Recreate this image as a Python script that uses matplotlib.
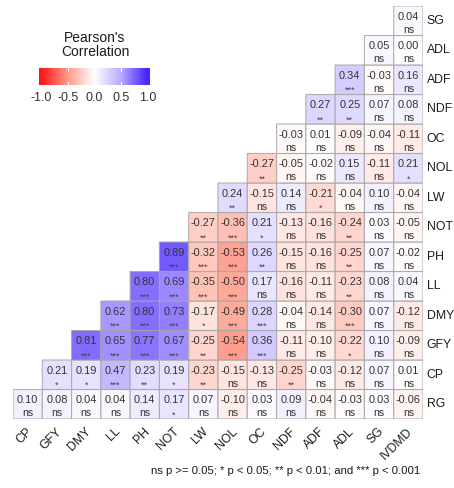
import numpy as np
import matplotlib
matplotlib.use("Agg")
import matplotlib.pyplot as plt
from matplotlib.colors import LinearSegmentedColormap

plt.rcParams["font.family"] = ["Liberation Sans", "DejaVu Sans"]

# columns (left to right) and rows (bottom to top)
cols = ["CP", "GFY", "DMY", "LL", "PH", "NOT", "LW", "NOL", "OC", "NDF", "ADF", "ADL", "SG", "IVDMD"]
rows = ["RG", "CP", "GFY", "DMY", "LL", "PH", "NOT", "LW", "NOL", "OC", "NDF", "ADF", "ADL", "SG"]

# each row lists values from its first column through IVDMD
r_RG = [0.10, 0.08, 0.04, 0.04, 0.14, 0.17, 0.07, -0.10, 0.03, 0.09, -0.04, -0.03, 0.03, -0.06]
s_RG = ["ns", "ns", "ns", "ns", "ns", "*", "ns", "ns", "ns", "ns", "ns", "ns", "ns", "ns"]
r_CP = [0.21, 0.19, 0.47, 0.23, 0.19, -0.23, -0.15, -0.13, -0.25, -0.03, -0.12, 0.07, 0.01]
s_CP = ["*", "*", "***", "**", "*", "**", "ns", "ns", "**", "ns", "ns", "ns", "ns"]
r_GFY = [0.81, 0.65, 0.77, 0.67, -0.25, -0.54, 0.36, -0.11, -0.10, -0.22, 0.10, -0.09]
s_GFY = ["***", "***", "***", "***", "**", "***", "***", "ns", "ns", "*", "ns", "ns"]
r_DMY = [0.62, 0.80, 0.73, -0.17, -0.49, 0.28, -0.04, -0.14, -0.30, 0.07, -0.12]
s_DMY = ["***", "***", "***", "*", "***", "***", "ns", "ns", "***", "ns", "ns"]
r_LL = [0.80, 0.69, -0.35, -0.50, 0.17, -0.16, -0.11, -0.23, 0.08, 0.04]
s_LL = ["***", "***", "***", "***", "ns", "ns", "ns", "**", "ns", "ns"]
r_PH = [0.89, -0.32, -0.53, 0.26, -0.15, -0.16, -0.25, 0.07, -0.02]
s_PH = ["***", "***", "***", "**", "ns", "ns", "**", "ns", "ns"]
r_NOT = [-0.27, -0.36, 0.21, -0.13, -0.16, -0.24, 0.03, -0.05]
s_NOT = ["**", "***", "*", "ns", "ns", "**", "ns", "ns"]
r_LW = [0.24, -0.15, 0.14, -0.21, -0.04, 0.10, -0.04]
s_LW = ["**", "ns", "ns", "*", "ns", "ns", "ns"]
r_NOL = [-0.27, -0.05, -0.02, 0.15, -0.11, 0.21]
s_NOL = ["**", "ns", "ns", "ns", "ns", "*"]
r_OC = [-0.03, 0.01, -0.09, -0.04, -0.11]
s_OC = ["ns", "ns", "ns", "ns", "ns"]
r_NDF = [0.27, 0.25, 0.07, 0.08]
s_NDF = ["**", "**", "ns", "ns"]
r_ADF = [0.34, -0.03, 0.16]
s_ADF = ["***", "ns", "ns"]
r_ADL = [0.05, 0.00]
s_ADL = ["ns", "ns"]
r_SG = [0.04]
s_SG = ["ns"]

vals = [r_RG, r_CP, r_GFY, r_DMY, r_LL, r_PH, r_NOT, r_LW, r_NOL, r_OC, r_NDF, r_ADF, r_ADL, r_SG]
sigs = [s_RG, s_CP, s_GFY, s_DMY, s_LL, s_PH, s_NOT, s_LW, s_NOL, s_OC, s_NDF, s_ADF, s_ADL, s_SG]

n = len(cols)
mat = np.full((n, n), np.nan)
for i, rv in enumerate(vals):
    mat[i, n - len(rv):] = rv

cmap = LinearSegmentedColormap.from_list(
    "rwb", [(0.0, "#FF1A1A"), (0.25, "#FF9C8A"), (0.5, "#FFFFFF"), (0.75, "#BBAAFF"), (1.0, "#4426FF")])

W, H = 454, 488
fig = plt.figure(figsize=(W / 100, H / 100), dpi=100)
ax = fig.add_axes([13 / W, 1 - 419 / H, 410 / W, 413 / H])
# pcolor drops the masked (empty) cells, so only the triangle gets drawn
ax.pcolor(np.arange(n + 1), np.arange(n + 1), np.ma.masked_invalid(mat),
          cmap=cmap, vmin=-1, vmax=1, edgecolors="#a8a8a8", linewidth=0.8, alpha=0.88)
ax.set_xlim(0, n)
ax.set_ylim(0, n)
ax.axis("off")

for i, rv in enumerate(vals):
    start = n - len(rv)
    for k, v in enumerate(rv):
        x = start + k + 0.5
        ax.text(x, i + 0.63, f"{v:.2f}", ha="center", va="center", fontsize=7.9, color="#333333")
        s = sigs[i][k]
        if s == "ns":
            ax.text(x, i + 0.2, s, ha="center", va="center", fontsize=7.6, color="#333333")
        else:
            ax.text(x, i + 0.14, s, ha="center", va="center", fontsize=6.6, color="#444444")

for i, r in enumerate(rows):
    ax.text(n + 0.12, i + 0.5, r, ha="left", va="center", fontsize=8.8, color="#1a1a1a")
for j, c in enumerate(cols):
    ax.text(j + 0.45, -0.22, c, ha="right", va="top", rotation=45, rotation_mode="anchor",
            fontsize=8.8, color="#1a1a1a", clip_on=False)

# colour legend
cax = fig.add_axes([39 / W, 1 - 85 / H, 111 / W, 17 / H])
grad = np.linspace(-1.05, 1.05, 256).reshape(1, -1)
cax.imshow(grad, aspect="auto", cmap=cmap, vmin=-1, vmax=1, extent=[-1.05, 1.05, 0, 1])
for t in [-0.5, 0.0, 0.5]:
    cax.plot([t, t], [0, 0.2], color="white", lw=0.8)
    cax.plot([t, t], [0.8, 1], color="white", lw=0.8)
cax.set_xlim(-1.05, 1.05)
cax.set_ylim(0, 1)
cax.set_yticks([])
cax.set_xticks([-1, -0.5, 0, 0.5, 1])
cax.set_xticklabels(["-1.0", "-0.5", "0.0", "0.5", "1.0"], fontsize=9, color="#333333")
cax.tick_params(axis="x", length=0, pad=5)
for sp in cax.spines.values():
    sp.set_visible(False)
fig.text(95 / W, 1 - 45 / H, "Pearson's\nCorrelation", ha="center", va="center",
         fontsize=10, color="#1a1a1a", linespacing=1.05)

fig.text(420 / W, 1 - 471 / H, "ns p >= 0.05; * p < 0.05; ** p < 0.01; and *** p < 0.001",
         ha="right", va="center", fontsize=8.2, color="#1a1a1a")

fig.savefig("out.png", dpi=100)
